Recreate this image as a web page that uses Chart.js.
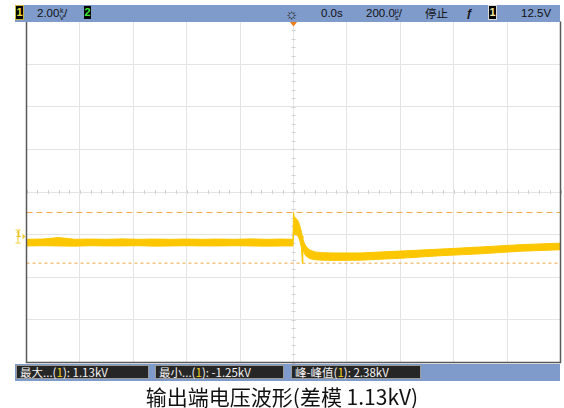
<!DOCTYPE html>
<html>
<head>
<meta charset="utf-8">
<script src="https://cdn.jsdelivr.net/npm/chart.js@4/dist/chart.umd.min.js"></script>
<style>
  html, body { margin: 0; padding: 0; background: #fff; }
  #wrap { position: relative; width: 564px; height: 408px; overflow: hidden; font-family: "Liberation Sans", "DejaVu Sans", sans-serif; }
  #scope { position: absolute; left: 0; top: 0; }
  .bar { position: absolute; left: 15px; width: 545px; height: 17px; background: #7e9bcb; }
  .t { position: absolute; font-size: 11.5px; line-height: 17px; color: #111; white-space: nowrap; }
  .chbox { position: absolute; top: 1px; width: 7px; height: 13px; background: #000; font: bold 11px/13px "Liberation Sans", sans-serif; text-align: center; }
  .stack { display: inline-block; vertical-align: top; font-size: 7px; line-height: 7px; text-align: center; margin-top: 2px; }
  .meas { position: absolute; top: 1px; height: 14px; background: #262626; border: 1px solid #9a9a9a; box-sizing: border-box; color: #f2f2f2; font-size: 11.5px; line-height: 13px; padding-left: 3px; white-space: nowrap; font-family: "Noto Sans CJK SC", "Liberation Sans", sans-serif; }
  .y1 { color: #f3d21c; }
  #caption { position: absolute; left: 0; top: 383px; width: 564px; text-align: center; font-family: "Noto Sans CJK SC", sans-serif; font-size: 21px; line-height: 26px; color: #111; }
  #gnd { position: absolute; left: 16px; top: 229px; font: bold 9px/10px "Liberation Sans", sans-serif; color: #e8c020; }
</style>
</head>
<body>
<div id="wrap">
  <canvas id="scope" width="564" height="408"></canvas>

  <div class="bar" style="top:5px">
    <div class="chbox" style="left:1px;color:#f3e03a;outline:1px solid #c8b640">1</div>
    <div class="t" style="left:22px">2.00<span class="stack">k<br>V</span>/</div>
    <div class="chbox" style="left:69px;color:#3ee83e">2</div>
    <div class="t" style="left:270px;font-size:15px;color:#222">☼</div>
    <div class="t" style="left:306px">0.0s</div>
    <div class="t" style="left:351px">200.0<span class="stack">µ<br>s</span>/</div>
    <div class="t" style="left:410px;font-family:'Noto Sans CJK SC',sans-serif;font-size:11.5px">停止</div>
    <div class="t" style="left:451px;font-style:italic;font-weight:bold">ƒ</div>
    <div class="chbox" style="left:474px;color:#f3e8a0;outline:1px solid #d8d8d8">1</div>
    <div class="t" style="left:506px">12.5V</div>
  </div>

  <div class="bar" style="top:364px">
    <div class="meas" style="left:1px;width:133px">最大...(<span class="y1">1</span>): 1.13kV</div>
    <div class="meas" style="left:140px;width:129px">最小...(<span class="y1">1</span>): -1.25kV</div>
    <div class="meas" style="left:276px;width:130px">峰-峰值(<span class="y1">1</span>): 2.38kV</div>
  </div>

  <div id="gnd">1</div>
  <div id="caption">输出端电压波形(差模 1.13kV)</div>
</div>

<script>
// Channel 1 trace, stored as the upper and lower edge of the noisy band (kV vs. µs)
const timeUs = [-1000, -940, -880, -820, -760, -700, -640, -580, -520, -460, -400, -340,
                -280, -220, -160, -100, -40, -2, 0, 3, 10, 18, 25, 30, 33, 35, 40, 48,
                60, 80, 110, 150, 250, 400, 550, 700, 850, 1000];
const upperKV = [-0.13, -0.12, -0.05, -0.13, -0.12, -0.13, -0.11, -0.13, -0.12, -0.13, -0.12, -0.13,
                 -0.12, -0.13, -0.11, -0.13, -0.12, -0.13, 1.13, 0.92, 0.85, 0.72, 0.45, 0.20, 0.02, -0.10, -0.30, -0.48,
                 -0.62, -0.72, -0.76, -0.77, -0.77, -0.68, -0.59, -0.49, -0.38, -0.31];
const lowerKV = [-0.44, -0.43, -0.44, -0.45, -0.43, -0.44, -0.44, -0.43, -0.45, -0.44, -0.43, -0.44,
                 -0.44, -0.43, -0.44, -0.45, -0.44, -0.44, 0.05, 0.10, 0.08, 0.00, -0.25, -0.55, -1.25, -0.62, -0.78, -0.92,
                 -1.03, -1.09, -1.11, -1.12, -1.11, -1.02, -0.90, -0.81, -0.69, -0.62];

// Max / min measurement cursors
const cursorMaxKV = 1.13;
const cursorMinKV = -1.25;

// Screen: 10 x 200 µs horizontally, 8 x 2.00 kV vertically, ground 1.04 div below centre
const timeDivUs = 200;
const voltDivKV = 2.0;
const screenMinKV = -5.91;
const screenMaxKV = screenMinKV + 8 * voltDivKV;
const timeGridUs = [-1000, -800, -600, -400, -200, 0, 200, 400, 600, 800, 1000];
const voltGridKV = [0, 1, 2, 3, 4, 5, 6, 7, 8].map(k => screenMinKV + k * voltDivKV);

const TRACE = 'rgb(252, 199, 0)';
const CURSOR = 'rgb(240, 168, 70)';

const toPts = arr => arr.map((v, i) => ({ x: timeUs[i], y: v }));

// Centre-line minor ticks, frame and trigger marker
const scopeDecor = {
  id: 'scopeDecor',
  beforeDatasetsDraw(chart) {
    const { ctx, scales: { x, y } } = chart;
    const cx = x.getPixelForValue(0);
    const cy = y.getPixelForValue(screenMinKV + 4 * voltDivKV);
    ctx.save();
    ctx.strokeStyle = '#d2d2d2';
    ctx.lineWidth = 1;
    ctx.beginPath();
    for (let t = -1000; t <= 1000; t += timeDivUs / 5) {
      const px = Math.round(x.getPixelForValue(t)) + 0.5;
      ctx.moveTo(px, cy - 2); ctx.lineTo(px, cy + 2);
    }
    for (let v = screenMinKV; v <= screenMaxKV + 1e-6; v += voltDivKV / 5) {
      const py = Math.round(y.getPixelForValue(v)) + 0.5;
      ctx.moveTo(cx - 2, py); ctx.lineTo(cx + 2, py);
    }
    ctx.stroke();
    ctx.restore();
  },
  afterDraw(chart) {
    const { ctx, chartArea: a, scales: { x, y } } = chart;
    ctx.save();
    ctx.strokeStyle = '#5a5a5a';
    ctx.lineWidth = 1.5;
    ctx.beginPath();
    ctx.moveTo(a.left, a.top); ctx.lineTo(a.left, a.bottom);
    ctx.lineTo(a.right, a.bottom); ctx.lineTo(a.right, a.top);
    ctx.stroke();
    // trigger position marker
    const tx = x.getPixelForValue(0);
    ctx.fillStyle = '#f07d1a';
    ctx.beginPath();
    ctx.moveTo(tx - 4, a.top); ctx.lineTo(tx + 4, a.top); ctx.lineTo(tx, a.top + 5);
    ctx.closePath(); ctx.fill();
    // channel 1 ground reference arrow
    const gy = y.getPixelForValue(0);
    ctx.fillStyle = '#f0cc30';
    ctx.beginPath();
    ctx.moveTo(a.left - 4, gy - 3); ctx.lineTo(a.left - 1, gy); ctx.lineTo(a.left - 4, gy + 3);
    ctx.closePath(); ctx.fill();
    ctx.strokeStyle = '#f0cc30';
    ctx.lineWidth = 1;
    ctx.beginPath();
    ctx.moveTo(a.left - 8.5, gy - 6); ctx.lineTo(a.left - 8.5, gy + 6);
    ctx.moveTo(a.left - 11, gy - 6.5); ctx.lineTo(a.left - 6, gy - 6.5);
    ctx.moveTo(a.left - 11, gy + 6.5); ctx.lineTo(a.left - 6, gy + 6.5);
    ctx.stroke();
    ctx.restore();
  }
};

const gridOpts = { color: '#e4e4e4', lineWidth: 1, drawTicks: false };

new Chart(document.getElementById('scope'), {
  type: 'line',
  data: {
    datasets: [
      { data: toPts(upperKV), borderColor: TRACE, borderWidth: 1, pointRadius: 0, fill: false, tension: 0 },
      { data: toPts(lowerKV), borderColor: TRACE, borderWidth: 1, pointRadius: 0, fill: '-1', backgroundColor: TRACE, tension: 0 },
      { data: [{ x: -1000, y: cursorMaxKV }, { x: 1000, y: cursorMaxKV }], borderColor: CURSOR, borderWidth: 1, borderDash: [6, 4], pointRadius: 0, fill: false },
      { data: [{ x: -1000, y: cursorMinKV }, { x: 1000, y: cursorMinKV }], borderColor: CURSOR, borderWidth: 1, borderDash: [3, 3], pointRadius: 0, fill: false }
    ]
  },
  options: {
    responsive: false,
    animation: false,
    devicePixelRatio: 1,
    layout: { padding: { left: 26.5, right: 3.5, top: 21.5, bottom: 45.5 } },
    plugins: { legend: { display: false }, tooltip: { enabled: false } },
    scales: {
      x: {
        type: 'linear', min: -1000, max: 1000,
        afterBuildTicks: s => { s.ticks = timeGridUs.map(v => ({ value: v })); },
        ticks: { display: false },
        grid: gridOpts,
        border: { display: false }
      },
      y: {
        type: 'linear', min: screenMinKV, max: screenMaxKV,
        afterBuildTicks: s => { s.ticks = voltGridKV.map(v => ({ value: v })); },
        ticks: { display: false },
        grid: gridOpts,
        border: { display: false }
      }
    }
  },
  plugins: [scopeDecor]
});
</script>
</body>
</html>
